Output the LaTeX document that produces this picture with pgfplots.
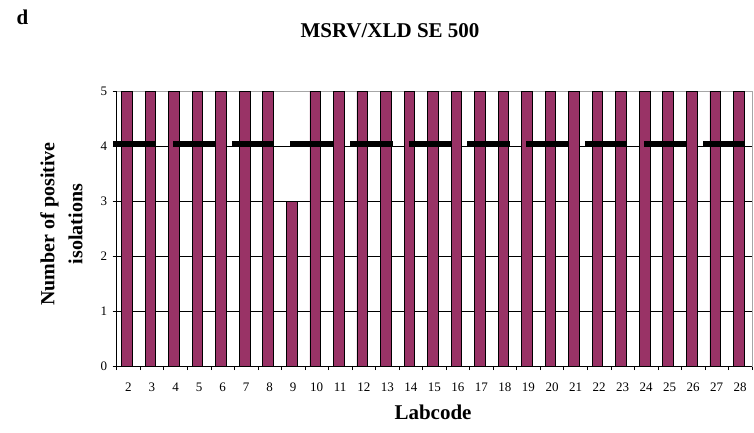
\documentclass[border=0pt]{standalone}
\usepackage{fontspec}
\setmainfont{Liberation Serif}
\usepackage{pgfplots}
\pgfplotsset{compat=1.18}
\definecolor{barfill}{RGB}{153,51,102}
\begin{document}
\begin{tikzpicture}[x=1pt,y=1pt]
\useasboundingbox (0,0) rectangle (754,433);
\begin{axis}[
  at={(116.7pt,67pt)}, anchor=south west,
  scale only axis, width=635.3pt, height=275pt,
  xmin=-0.5, xmax=26.5, ymin=0, ymax=5,
  xtick={0,...,26},
  xticklabels={2,3,4,5,6,7,8,9,10,11,12,13,14,15,16,17,18,19,20,21,22,23,24,25,26,27,28},
  minor xtick={-0.5,0.5,...,26.5},
  ytick={0,...,5},
  extra y ticks={1,2,3,4},
  extra y tick labels={},
  extra y tick style={grid=major, major tick length=0pt},
  xtick pos=bottom, ytick pos=left,
  tick align=outside,
  major tick length=4pt, minor tick length=4pt,
  major x tick style={draw=none},
  minor x tick style={black, line width=0.6pt},
  major y tick style={black, line width=0.6pt},
  grid style={black, line width=0.6pt},
  axis line style={draw=gray!70, line width=0.8pt},
  /pgf/number format/assume math mode=true,
  ticklabel style={font=\fontsize{13}{15}\selectfont},
  xticklabel style={yshift=-9pt},
  yticklabel style={xshift=-2pt},
  clip=false,
]
\addplot[ybar, bar width=0.45, bar shift=-1.5pt, fill=barfill, draw=black, line width=0.8pt]
coordinates {(0,5) (1,5) (2,5) (3,5) (4,5) (5,5) (6,5) (7,3) (8,5) (9,5) (10,5) (11,5) (12,5) (13,5) (14,5) (15,5) (16,5) (17,5) (18,5) (19,5) (20,5) (21,5) (22,5) (23,5) (24,5) (25,5) (26,5)};
\addplot[only marks, mark=-, mark size=21.25pt, mark options={line width=6pt, draw=black}]
coordinates {(0.244,4.04) (2.79,4.04) (5.30,4.04) (7.787,4.04) (10.32,4.04) (12.83,4.04) (15.31,4.04) (17.81,4.04) (20.29,4.04) (22.80,4.04) (25.30,4.04)};
\draw[black, line width=0.8pt] (rel axis cs:0,1) -- (rel axis cs:0,0) -- (rel axis cs:1,0);
\end{axis}
\node[anchor=base, font=\fontsize{21}{25}\selectfont\bfseries] at (22.5,408) {d};
\node[anchor=base, font=\fontsize{21}{25}\selectfont\bfseries] at (390,395.7) {MSRV/XLD SE 500};
\node[anchor=base, font=\fontsize{21}{25}\selectfont\bfseries] at (433,13) {Labcode};
\node[rotate=90, align=center, font=\fontsize{20}{28}\selectfont\bfseries] at (61.5,209) {Number of positive\\isolations};
\end{tikzpicture}
\end{document}
